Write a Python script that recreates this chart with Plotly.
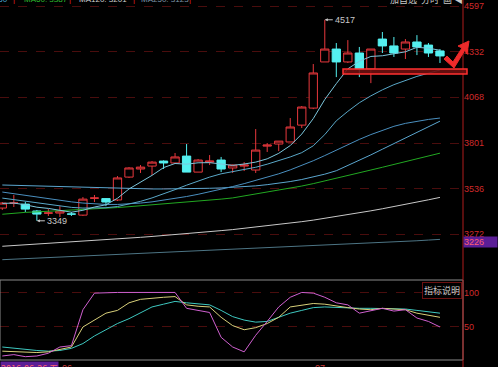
import plotly.graph_objects as go

# ---------------- data ----------------
idx = list(range(39))
opens = [3423, 3452, 3446, 3406, 3394, 3394, 3388, 3382, 3481, 3478,
         3470, 3603, 3650, 3667, 3696, 3685, 3725, 3632, 3690, 3702,
         3656, 3667, 3644, 3783, 3795, 3807, 3905, 4004, 4272, 4347,
         4272, 4324, 4231, 4405, 4365, 4347, 4388, 4370, 4336]
highs = [3458, 3499, 3458, 3412, 3417, 3434, 3400, 3487, 3499, 3481,
         3609, 3661, 3673, 3696, 3700, 3743, 3795, 3708, 3731, 3720,
         3676, 3690, 3882, 3801, 3812, 3946, 4016, 4260, 4517, 4382,
         4399, 4359, 4347, 4446, 4417, 4405, 4428, 4382, 4347]
lows = [3412, 3429, 3400, 3349, 3377, 3371, 3377, 3377, 3458, 3434,
        3464, 3598, 3627, 3615, 3650, 3679, 3632, 3632, 3673, 3632,
        3627, 3638, 3627, 3749, 3754, 3807, 3888, 3998, 4272, 4184,
        4266, 4184, 4149, 4324, 4301, 4289, 4312, 4301, 4266]
closes = [3452, 3452, 3417, 3388, 3394, 3406, 3388, 3475, 3481, 3458,
          3598, 3656, 3661, 3690, 3685, 3720, 3632, 3702, 3696, 3650,
          3673, 3673, 3760, 3789, 3812, 3894, 4010, 4208, 4347, 4272,
          4324, 4231, 4347, 4365, 4324, 4388, 4359, 4324, 4307]

ma5 = [3450, 3452, 3442, 3428, 3421, 3411, 3399, 3410, 3429, 3442,
       3480, 3534, 3571, 3613, 3658, 3682, 3678, 3686, 3687, 3680,
       3671, 3679, 3690, 3709, 3741, 3786, 3853, 3943, 4054, 4146,
       4232, 4276, 4304, 4308, 4318, 4331, 4357, 4352, 4340]
ma10 = [3481, 3472, 3462, 3452, 3442, 3434, 3427, 3423, 3423, 3425,
        3432, 3445, 3462, 3482, 3505, 3530, 3556, 3580, 3603, 3622,
        3635, 3645, 3660, 3678, 3698, 3720, 3745, 3785, 3850, 3930,
        3985, 4035, 4075, 4110, 4140, 4165, 4188, 4207, 4225]
ma20 = [3516, 3506, 3496, 3486, 3476, 3467, 3459, 3452, 3447, 3444,
        3444, 3447, 3452, 3459, 3468, 3478, 3490, 3503, 3517, 3532,
        3548, 3565, 3583, 3602, 3622, 3645, 3670, 3698, 3728, 3760,
        3792, 3822, 3850, 3876, 3898, 3915, 3928, 3938, 3946]
ma30 = [3557, 3555, 3553, 3551, 3549, 3547, 3545, 3543, 3541, 3539,
        3537, 3536, 3535, 3534, 3534, 3534, 3535, 3536, 3538, 3540,
        3543, 3547, 3552, 3559, 3567, 3577, 3589, 3603, 3620, 3640,
        3670, 3700, 3732, 3765, 3797, 3830, 3862, 3895, 3928]
ma60 = [3387, 3394, 3398, 3401, 3404, 3407, 3410, 3414, 3418, 3422,
        3426, 3431, 3436, 3441, 3446, 3451, 3457, 3463, 3469, 3475,
        3482, 3493, 3505, 3515, 3526, 3538, 3551, 3565, 3580, 3596,
        3612, 3628, 3644, 3660, 3676, 3692, 3708, 3725, 3742]
ma120 = [3201, 3205, 3209, 3213, 3217, 3221, 3225, 3229, 3233, 3238,
         3243, 3248, 3253, 3258, 3263, 3268, 3274, 3280, 3286, 3292,
         3298, 3305, 3312, 3319, 3327, 3335, 3344, 3353, 3363, 3373,
         3384, 3395, 3407, 3419, 3431, 3444, 3457, 3471, 3485]
ma250 = [3123, 3126, 3129, 3132, 3135, 3138, 3141, 3144, 3147, 3150,
         3153, 3156, 3159, 3162, 3165, 3168, 3171, 3174, 3177, 3180,
         3183, 3186, 3189, 3192, 3195, 3198, 3201, 3204, 3207, 3210,
         3213, 3216, 3219, 3222, 3225, 3229, 3233, 3237, 3241]

ind_fast = [8, 10, 7, 8, 12, 21, 23, 75, 99, 100,
            100, 100, 100, 100, 100, 100, 77, 74, 71, 35,
            21, 14, 38, 58, 79, 93, 100, 99, 93, 85,
            82, 70, 73, 77, 73, 75, 63, 58, 50]
ind_mid = [15, 14, 13, 13, 14, 17, 21, 50, 60, 70,
           74, 85, 90, 92, 93, 94, 82, 80, 79, 64,
           52, 46, 49, 55, 64, 79, 82, 84, 83, 80,
           78, 76, 75, 77, 76, 75, 70, 67, 64]
ind_slow = [21, 19, 18, 16, 15, 16, 19, 26, 37, 46,
            55, 62, 71, 79, 83, 87, 85, 83, 82, 74,
            65, 60, 57, 58, 64, 70, 74, 78, 79, 78,
            77, 77, 77, 77, 76, 76, 74, 72, 70]

price_ticks = [4597, 4332, 4068, 3801, 3536, 3272]
ind_ticks = [50, 100]
last_price = 3226
high_mark = (28, 4517)
low_mark = (3, 3349)
legend_items = [("MA30: 3550", "#4aa8d8"), ("MA60: 3387", "#2fbf2f"),
                ("MA120: 3201", "#d0d0d0"), ("MA250: 3123", "#7f95a8")]
date_label = "2016-06-26 五"
month_labels = [(5, "06"), (27, "07")]

# ---------------- figure ----------------
W, H = 498, 367
ML, MR, MT, MB = 0, 35, 0, 7
PW, PH = W - ML - MR, H - MT - MB
split = 80 / PH

def px(x):
    return x / PW

def py(y):
    return 1 - y / PH

RED = "#d02a2a"
fig = go.Figure()

fig.add_trace(go.Candlestick(
    x=idx, open=opens, high=highs, low=lows, close=closes,
    increasing=dict(line=dict(color="#e8383d", width=1), fillcolor="#000000"),
    decreasing=dict(line=dict(color="#54f0f0", width=1), fillcolor="#54f0f0"),
    whiskerwidth=0, showlegend=False, hoverinfo="skip",
    xaxis="x", yaxis="y"))

for vals, col in [(ma250, "#4d7585"), (ma120, "#c8c8c8"), (ma60, "#22a822"),
                  (ma30, "#5ba6cf"), (ma20, "#4a8fbf"), (ma10, "#5aa8c8"),
                  (ma5, "#7cc6dc")]:
    fig.add_trace(go.Scatter(x=idx, y=vals, mode="lines",
                             line=dict(color=col, width=1),
                             showlegend=False, hoverinfo="skip",
                             xaxis="x", yaxis="y"))

for vals, col in [(ind_slow, "#3ec8c0"), (ind_mid, "#d8d07a"), (ind_fast, "#d060d0")]:
    fig.add_trace(go.Scatter(x=idx, y=vals, mode="lines",
                             line=dict(color=col, width=1),
                             showlegend=False, hoverinfo="skip",
                             xaxis="x2", yaxis="y2"))

axcommon = dict(showticklabels=False, showgrid=False, zeroline=False,
                showline=False, ticks="", range=[-0.2, 40.0], automargin=False)
fig.update_layout(
    width=W, height=H,
    margin=dict(l=ML, r=MR, t=MT, b=MB, autoexpand=False),
    paper_bgcolor="#000000", plot_bgcolor="#000000",
    font=dict(family="Liberation Sans, Arial, sans-serif"),
    boxgap=0.2, boxgroupgap=0.1,
    hovermode=False,
    xaxis=dict(domain=[0, 1], anchor="y", rangeslider=dict(visible=False), **axcommon),
    xaxis2=dict(domain=[0, 1], anchor="y2", matches="x", **axcommon),
    yaxis=dict(domain=[split, 1], range=[3005, 4632], side="right",
               tickvals=price_ticks, ticktext=[str(v) for v in price_ticks],
               tickfont=dict(color=RED, size=9), ticks="", automargin=False,
               showgrid=True, gridcolor="#4a0d0d", griddash="dash", gridwidth=1,
               zeroline=False, showline=False),
    yaxis2=dict(domain=[0, split], range=[2.2, 118], side="right",
                tickvals=ind_ticks, ticktext=[str(v) for v in ind_ticks],
                tickfont=dict(color=RED, size=9), ticks="", automargin=False,
                showgrid=True, gridcolor="#4a0d0d", griddash="dash", gridwidth=1,
                zeroline=False, showline=False),
)

shapes = []
shapes.append(dict(type="rect", xref="paper", yref="paper", x0=0, x1=1, y0=0, y1=split,
                   line=dict(color="#8a8a8a", width=1)))
shapes.append(dict(type="line", xref="paper", yref="paper", x0=1, x1=1,
                   y0=-MB / PH, y1=1, line=dict(color="#b01c1c", width=1)))
shapes.append(dict(type="rect", xref="paper", yref="y", x0=px(343), x1=px(467),
                   y0=4202, y1=4231, fillcolor="rgba(110,15,15,0.9)",
                   line=dict(color="#ff3030", width=1.5)))
pts = [(444, 59), (454, 68), (465, 50), (467, 54), (469, 41), (458, 46), (462, 48), (453, 62), (447, 56)]
path = "M " + " L ".join(f"{px(x):.4f},{py(y):.4f}" for x, y in pts) + " Z"
shapes.append(dict(type="path", xref="paper", yref="paper", path=path,
                   fillcolor="#ee2a2a", line=dict(color="#ee2a2a", width=1)))
fig.update_layout(shapes=shapes)

ann = []
ann.append(dict(x=high_mark[0], y=high_mark[1], xref="x", yref="y", text=str(high_mark[1]),
                showarrow=True, arrowhead=2, arrowsize=0.6, arrowwidth=1, arrowcolor="#c8c8c8",
                ax=8, ay=0, xanchor="left", font=dict(color="#c8c8c8", size=9)))
ann.append(dict(x=low_mark[0], y=low_mark[1], xref="x", yref="y", text=str(low_mark[1]),
                showarrow=True, arrowhead=2, arrowsize=0.6, arrowwidth=1, arrowcolor="#c8c8c8",
                ax=8, ay=0, xanchor="left", font=dict(color="#c8c8c8", size=9)))
ann.append(dict(x=1, y=last_price, xref="paper", yref="y", text=str(last_price),
                showarrow=False, xanchor="left", yanchor="middle", align="left",
                bgcolor="#5b1e96", width=33, height=10, borderpad=0,
                font=dict(color="#ff6070", size=9)))
xpos = [10, 22, 77, 139]
for (txt, col), xp in zip(legend_items, xpos):
    anchor = "right" if xp == 10 else "left"
    ann.append(dict(x=px(xp), y=py(-1), xref="paper", yref="paper", text=txt,
                    showarrow=False, xanchor=anchor, yanchor="middle",
                    font=dict(color=col, size=8)))
for xp in [14, 70, 134, 190]:
    ann.append(dict(x=px(xp), y=py(-1), xref="paper", yref="paper", text="|",
                    showarrow=False, xanchor="center", yanchor="middle",
                    font=dict(color="#e02020", size=8)))
ann.append(dict(x=px(388), y=py(-1), xref="paper", yref="paper", text="加自选  分时  画 ◀",
                showarrow=False, xanchor="left", yanchor="middle",
                font=dict(color="#c8c8c8", size=9, family="Noto Sans CJK SC")))
ann.append(dict(x=px(462), y=py(282), xref="paper", yref="paper", text="指标说明",
                showarrow=False, xanchor="right", yanchor="top",
                bordercolor="#6a1010", borderwidth=1, borderpad=1,
                font=dict(color="#c8c8c8", size=9, family="Noto Sans CJK SC")))
ann.append(dict(x=0, y=py(361), xref="paper", yref="paper", text=date_label,
                showarrow=False, xanchor="left", yanchor="top", bgcolor="#5b1e96",
                borderpad=0, font=dict(color="#ff6070", size=9, family="Noto Sans CJK SC")))
for i, t in month_labels:
    ann.append(dict(x=i, y=py(361), xref="x", yref="paper", text=t,
                    showarrow=False, xanchor="left", yanchor="top",
                    font=dict(color="#c83a3a", size=9)))
fig.update_layout(annotations=ann)

fig.write_html("out.html", config={"displayModeBar": False, "staticPlot": True},
               post_script="document.body.style.margin='0';document.body.style.overflow='hidden';")
